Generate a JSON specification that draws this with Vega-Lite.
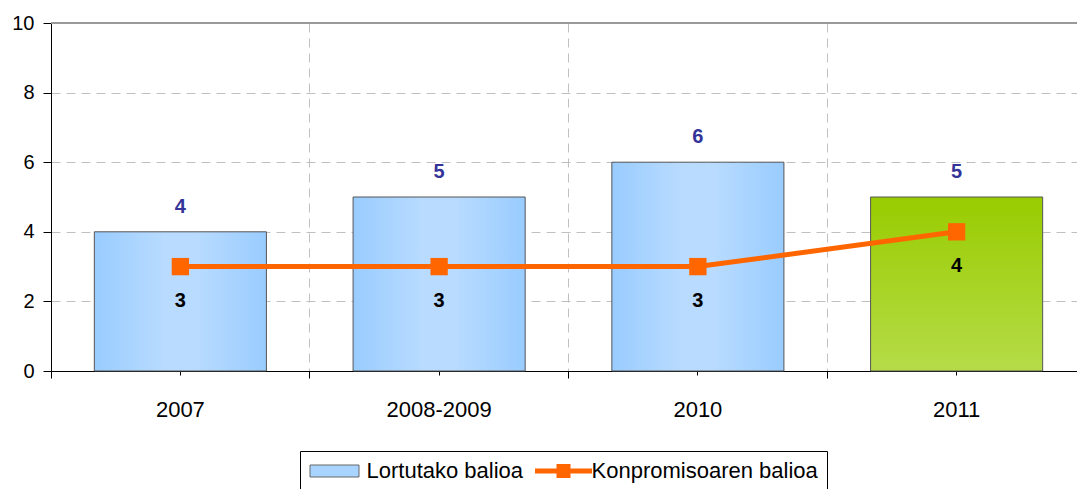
{
  "$schema": "https://vega.github.io/schema/vega-lite/v6.json",
  "width": 1026,
  "height": 348,
  "autosize": {"type": "none"},
  "padding": {"left": 51, "top": 23, "right": 0, "bottom": 118},
  "background": "white",
  "config": {
    "font": "Liberation Sans",
    "view": {"stroke": null},
    "axis": {"labelFont": "Liberation Sans", "labelColor": "#000000", "domainColor": "#000000", "tickColor": "#000000", "title": null}
  },
  "data": {
    "values": [
      {"year": "2007", "serie": "Lortutako balioa", "value": 4},
      {"year": "2008-2009", "serie": "Lortutako balioa", "value": 5},
      {"year": "2010", "serie": "Lortutako balioa", "value": 6},
      {"year": "2011", "serie": "Lortutako balioa", "value": 5},
      {"year": "2007", "serie": "Konpromisoaren balioa", "value": 3},
      {"year": "2008-2009", "serie": "Konpromisoaren balioa", "value": 3},
      {"year": "2010", "serie": "Konpromisoaren balioa", "value": 3},
      {"year": "2011", "serie": "Konpromisoaren balioa", "value": 4}
    ]
  },
  "encoding": {
    "y": {"field": "value", "type": "quantitative", "scale": {"domain": [0, 10], "nice": false, "zero": true},
      "axis": {"values": [0, 2, 4, 6, 8, 10], "grid": true, "gridColor": "#C0C0C0", "gridDash": [9, 6], "tickSize": 8, "labelPadding": 9, "labelFontSize": 20, "domainColor": "#000000", "tickColor": "#000000", "title": null}}
  },
  "resolve": {"axis": {"x": "independent"}},
  "layer": [
    {
      "mark": {"type": "point", "filled": true, "opacity": 0},
      "encoding": {
        "x": {"field": "year", "type": "nominal", "sort": null,
          "scale": {"range": [0, 1035], "paddingInner": 0, "paddingOuter": 0},
          "axis": {"orient": "bottom", "bandPosition": 0, "grid": true, "gridColor": "#C0C0C0", "gridDash": [9, 6], "gridWidth": 1, "labels": false, "domain": false, "ticks": true, "tickSize": 7, "tickColor": "#000000", "title": null}},
        "color": {"field": "serie", "type": "nominal",
          "scale": {"domain": ["Lortutako balioa", "Konpromisoaren balioa"], "range": ["#A8D4FF", "#FF6600"]},
          "legend": {
            "orient": "none", "legendX": 249, "legendY": 428, "direction": "horizontal", "title": null,
            "strokeColor": "#000000", "padding": 9, "labelFontSize": 22, "labelColor": "#000000", "labelFont": "Liberation Sans", "labelLimit": 500,
            "symbolSize": 400, "symbolOffset": 18.5, "labelOffset": 17, "columnPadding": 9, "symbolStrokeWidth": 0,
            "encode": {"symbols": {"update": {
              "opacity": {"value": 1},
              "fill": {"signal": "datum.value === 'Lortutako balioa' ? {gradient: 'linear', x1: 0, y1: 0, x2: 1, y2: 0, stops: [{offset: 0, color: '#99CCFF'}, {offset: 0.5, color: '#BBDDFF'}, {offset: 1, color: '#99CCFF'}]} : '#FF6600'"},
              "stroke": {"signal": "datum.value === 'Lortutako balioa' ? '#666666' : 'transparent'"},
              "strokeWidth": {"value": 1}
            }}}
          }},
        "shape": {"field": "serie", "type": "nominal",
          "scale": {"domain": ["Lortutako balioa", "Konpromisoaren balioa"],
            "range": ["M-2.85,-0.6H2.05V0.6H-2.85Z", "M-2.85,-0.25H-0.7V-0.7H0.7V-0.25H2.85V0.25H0.7V0.7H-0.7V0.25H-2.85Z"]}}
      }
    },
    {
      "mark": {"type": "rule", "stroke": "#999999", "strokeWidth": 2},
      "encoding": {"y": {"datum": 10, "type": "quantitative",
        "axis": {"values": [0, 2, 4, 6, 8, 10], "grid": true, "gridColor": "#C0C0C0", "gridDash": [9, 6], "tickSize": 8, "labelPadding": 9, "labelFontSize": 20, "domainColor": "#000000", "tickColor": "#000000", "title": null}}}
    },
    {
      "transform": [{"filter": "datum.serie === 'Lortutako balioa' && datum.year !== '2011'"}],
      "mark": {"type": "bar", "width": {"band": 0.665}, "stroke": "#555555", "strokeWidth": 1,
        "fill": {"gradient": "linear", "x1": 0, "y1": 0, "x2": 1, "y2": 0,
          "stops": [{"offset": 0, "color": "#99CCFF"}, {"offset": 0.4, "color": "#B8DBFF"}, {"offset": 0.6, "color": "#B8DBFF"}, {"offset": 1, "color": "#99CCFF"}]}},
      "encoding": {
        "x": {"field": "year", "type": "nominal", "sort": null,
          "scale": {"range": [0, 1035], "paddingInner": 0, "paddingOuter": 0},
          "axis": {"orient": "bottom", "grid": false, "labelFontSize": 22, "labelPadding": 24, "labelAngle": 0, "tickSize": 4, "domain": true, "domainColor": "#000000", "tickColor": "#000000", "title": null}}
      }
    },
    {
      "transform": [{"filter": "datum.serie === 'Lortutako balioa' && datum.year === '2011'"}],
      "mark": {"type": "bar", "width": {"band": 0.665}, "stroke": "#555555", "strokeWidth": 1,
        "fill": {"gradient": "linear", "x1": 0, "y1": 0, "x2": 0, "y2": 1,
          "stops": [{"offset": 0, "color": "#99CC00"}, {"offset": 1, "color": "#B5DC48"}]}},
      "encoding": {
        "x": {"field": "year", "type": "nominal", "sort": null, "axis": null}
      }
    },
    {
      "transform": [{"filter": "datum.serie === 'Konpromisoaren balioa'"}],
      "mark": {"type": "line", "stroke": "#FF6600", "strokeWidth": 5},
      "encoding": {
        "x": {"field": "year", "type": "nominal", "sort": null, "axis": null}
      }
    },
    {
      "transform": [{"filter": "datum.serie === 'Konpromisoaren balioa'"}],
      "mark": {"type": "point", "shape": "square", "filled": true, "fill": "#FF6600", "opacity": 1, "size": 300},
      "encoding": {
        "x": {"field": "year", "type": "nominal", "sort": null, "axis": null}
      }
    },
    {
      "transform": [{"filter": "datum.serie === 'Lortutako balioa'"}],
      "mark": {"type": "text", "baseline": "bottom", "dy": -15, "fontSize": 20, "fontWeight": "bold", "color": "#333399"},
      "encoding": {
        "x": {"field": "year", "type": "nominal", "sort": null, "axis": null},
        "text": {"field": "value", "type": "quantitative"}
      }
    },
    {
      "transform": [{"filter": "datum.serie === 'Konpromisoaren balioa'"}],
      "mark": {"type": "text", "baseline": "top", "dy": 24, "fontSize": 20, "fontWeight": "bold", "color": "#000000"},
      "encoding": {
        "x": {"field": "year", "type": "nominal", "sort": null, "axis": null},
        "text": {"field": "value", "type": "quantitative"}
      }
    }
  ]
}
